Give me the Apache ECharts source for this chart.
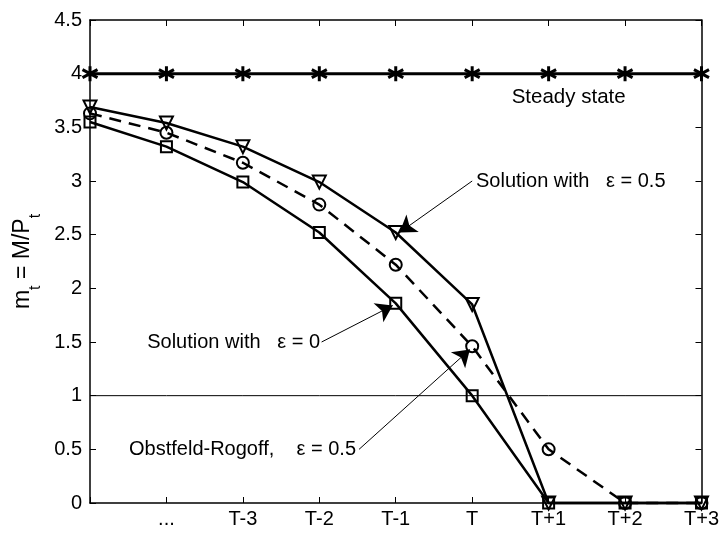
<!DOCTYPE html>
<html>
<head>
<meta charset="utf-8">
<script src="https://cdn.jsdelivr.net/npm/echarts@6/dist/echarts.min.js"></script>
<style>html,body{margin:0;padding:0;background:#fff}#c{width:722px;height:533px}</style>
</head>
<body>
<div id="c"></div>
<script>
// ---- data ----
var xPositions = [1, 2, 3, 4, 5, 6, 7, 8, 9];
var tickLabels = ['', '...', 'T-3', 'T-2', 'T-1', 'T', 'T+1', 'T+2', 'T+3'];
var steadyState = [4, 4, 4, 4, 4, 4, 4, 4, 4];
var solutionEps05 = [3.69, 3.54, 3.32, 2.99, 2.52, 1.85, 0, 0, 0];
var obstfeldRogoff = [3.63, 3.45, 3.17, 2.78, 2.22, 1.46, 0.5, 0, 0];
var solutionEps0 = [3.55, 3.32, 2.99, 2.52, 1.86, 1.0, 0, 0, 0];
var referenceLine = [1, 1, 1, 1, 1, 1, 1, 1, 1];

function pairs(ys) { return xPositions.map(function (x, i) { return [x, ys[i]]; }); }

var FONT = '"Liberation Sans", Arial, Helvetica, sans-serif';
var asterisk = 'path://M0,-6L0,6M-5.6,-3.2L5.6,3.2M-5.6,3.2L5.6,-3.2';

var chart = echarts.init(document.getElementById('c'), null, {renderer: 'canvas'});

var axisCommon = {
  axisLine: {show: true, onZero: false, lineStyle: {color: '#000', width: 1.5}},
  axisTick: {show: true, inside: true, length: 6, lineStyle: {color: '#000', width: 1}},
  splitLine: {show: false}
};

function lineSeries(name, ys, symbol, size, extra) {
  var s = {
    name: name,
    type: 'line',
    data: pairs(ys),
    symbol: symbol,
    symbolSize: size,
    showSymbol: true,
    clip: false,
    silent: true,
    lineStyle: {color: '#000', width: 2.5, type: 'solid'},
    itemStyle: {color: 'rgba(0,0,0,0)', borderColor: '#000', borderWidth: 2},
    z: 3
  };
  for (var k in extra) s[k] = extra[k];
  return s;
}

var textStyle = {color: '#000', fontFamily: FONT, fontSize: 20};

var option = {
  animation: false,
  backgroundColor: '#fff',
  grid: {left: 90, right: 15, top: 20, bottom: 30, containLabel: false},
  xAxis: [
    Object.assign({
      type: 'value', min: 1, max: 9, interval: 1, position: 'bottom',
      axisLabel: {
        color: '#000', fontFamily: FONT, fontSize: 20, margin: 6,
        formatter: function (v) { return tickLabels[Math.round(v) - 1] || ''; }
      }
    }, axisCommon),
    Object.assign({
      type: 'value', min: 1, max: 9, interval: 1, position: 'top',
      axisLabel: {show: false}
    }, axisCommon)
  ],
  yAxis: [
    Object.assign({
      type: 'value', min: 0, max: 4.5, interval: 0.5, position: 'left',
      axisLabel: {color: '#000', fontFamily: FONT, fontSize: 20, margin: 8},
      name: '{a|m}{b|t}{a| = M/P}{b|t}',
      nameLocation: 'middle',
      nameRotate: 90,
      nameGap: 42,
      nameTextStyle: {
        rich: {
          a: {fontFamily: FONT, fontSize: 23, color: '#000', lineHeight: 32, verticalAlign: 'top'},
          b: {fontFamily: FONT, fontSize: 16, color: '#000', lineHeight: 32, verticalAlign: 'bottom'}
        }
      }
    }, axisCommon),
    Object.assign({
      type: 'value', min: 0, max: 4.5, interval: 0.5, position: 'right',
      axisLabel: {show: false}
    }, axisCommon)
  ],
  series: [
    lineSeries('Reference', referenceLine, 'none', 0, {
      lineStyle: {color: '#000', width: 1}, z: 2
    }),
    lineSeries('Solution with ε = 0', solutionEps0, 'rect', 11, {}),
    lineSeries('Solution with ε = 0.5', solutionEps05, 'triangle', 13, {symbolRotate: 180}),
    lineSeries('Obstfeld-Rogoff, ε = 0.5', obstfeldRogoff, 'circle', 12, {
      lineStyle: {color: '#000', width: 2.5, type: [12, 8]}
    }),
    lineSeries('Steady state', steadyState, asterisk, 15, {
      lineStyle: {color: '#000', width: 3},
      itemStyle: {color: 'rgba(0,0,0,0)', borderColor: '#000', borderWidth: 3},
      markPoint: {
        silent: true,
        symbol: 'rect',
        symbolSize: 1,
        itemStyle: {color: 'rgba(0,0,0,0)'},
        data: [
          {coord: [6.51, 3.78], label: Object.assign({show: true, position: 'right', distance: 0, formatter: 'Steady state'}, textStyle, {fontSize: 20.5})},
          {coord: [6.03, 3.0], label: Object.assign({show: true, position: 'right', distance: 1, formatter: 'Solution with   ε = 0.5'}, textStyle)},
          {coord: [4.03, 1.5], label: Object.assign({show: true, position: 'left', distance: 1, formatter: 'Solution with   ε = 0'}, textStyle)},
          {coord: [4.5, 0.5], label: Object.assign({show: true, position: 'left', distance: 1, formatter: 'Obstfeld-Rogoff,    ε = 0.5'}, textStyle)}
        ]
      },
      markLine: {
        silent: true,
        symbol: ['none', 'arrow'],
        symbolSize: 16,
        label: {show: false},
        lineStyle: {color: '#000', width: 1, type: 'solid'},
        emphasis: {disabled: true},
        data: [
          [{coord: [6.0, 3.0]}, {coord: [5.05, 2.52]}],
          [{coord: [4.03, 1.5]}, {coord: [4.96, 1.84]}],
          [{coord: [4.52, 0.5]}, {coord: [5.97, 1.43]}]
        ]
      }
    })
  ]
};
chart.setOption(option);
</script>
</body>
</html>
